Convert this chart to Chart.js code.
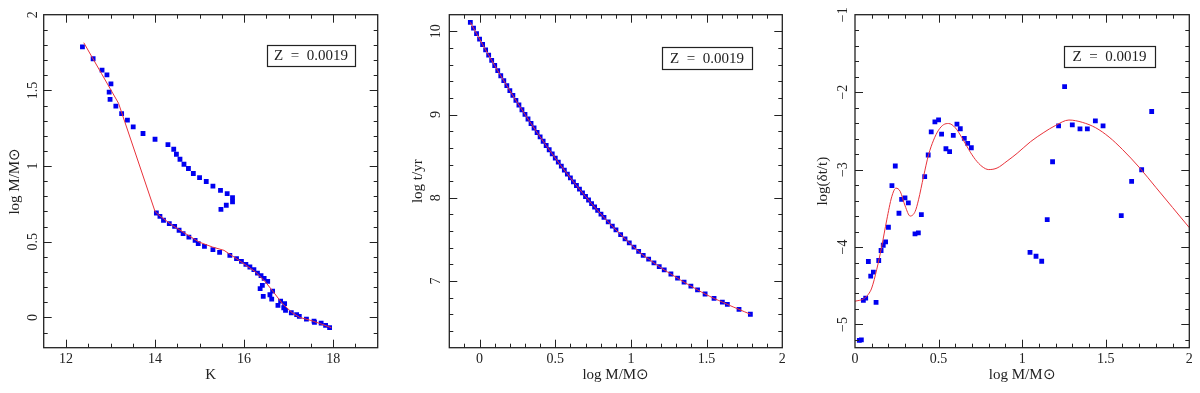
<!DOCTYPE html>
<html><head><meta charset="utf-8">
<script src="https://cdn.jsdelivr.net/npm/chart.js@4/dist/chart.umd.min.js"></script>
<style>
body{margin:0;background:#fff;width:1200px;height:393px;overflow:hidden;position:relative}
.p{position:absolute;top:0;width:400px;height:393px}
canvas{display:block}
</style>
</head><body>
<div class="p" style="left:0"><canvas id="c1" width="400" height="393"></canvas></div>
<div class="p" style="left:400px"><canvas id="c2" width="400" height="393"></canvas></div>
<div class="p" style="left:800px"><canvas id="c3" width="400" height="393"></canvas></div>
<script>
// ---------- Panel 1: log M vs K ----------
const p1K = [12.37,12.61,12.81,12.92,13.01,12.97,12.99,13.12,13.25,13.38,13.51,13.73,14.00,14.29,14.42,14.48,14.56,14.65,14.75,14.86,15.00,15.15,15.30,15.47,15.62,15.74,15.74,15.60,15.48,
  14.03,14.11,14.19,14.32,14.44,14.54,14.63,14.76,14.90,14.97,15.11,15.30,15.45,15.68,15.83,15.94,16.04,16.13,16.22,16.30,16.38,16.45,16.53,16.36,16.41,16.43,16.58,16.64,16.62,16.76,16.82,16.91,16.89,16.93,17.06,17.18,17.24,17.40,17.57,17.58,17.73,17.83,17.92];
const p1LogM = [1.788,1.709,1.634,1.603,1.543,1.488,1.440,1.396,1.347,1.303,1.259,1.215,1.177,1.142,1.111,1.078,1.045,1.012,0.984,0.951,0.924,0.898,0.867,0.840,0.818,0.792,0.763,0.741,0.714,
  0.690,0.668,0.642,0.620,0.602,0.576,0.554,0.531,0.509,0.487,0.470,0.448,0.430,0.410,0.388,0.370,0.351,0.333,0.316,0.293,0.276,0.258,0.238,0.190,0.212,0.139,0.150,0.174,0.121,0.079,0.108,0.091,0.064,0.046,0.031,0.018,0.007,-0.011,-0.024,-0.033,-0.038,-0.053,-0.068];
const p1LineK = [12.40,12.80,13.18,14.00,14.09,14.39,14.69,14.99,15.29,15.55,15.885,16.26,16.48,16.63,16.86,17.08,17.25,17.50,17.70,17.96];
const p1LineM = [1.815,1.610,1.415,0.700,0.675,0.608,0.553,0.498,0.465,0.443,0.377,0.300,0.234,0.179,0.091,0.031,0.000,-0.020,-0.040,-0.068];
const p1XTicks = [12,14,16,18];
const p1XLabels = ['12','14','16','18'];
const p1YTicks = [0,0.5,1,1.5,2];
const p1YLabels = ['0','0.5','1','1.5','2'];

// ---------- Panel 2: log t vs log M ----------
const p2LogM = [-0.061,-0.04,-0.02,0.0,0.02,0.04,0.06,0.08,0.10,0.12,0.14,0.16,0.18,0.20,0.22,0.24,0.26,0.28,0.30,0.32,0.34,0.36,0.38,0.40,0.42,0.44,0.46,0.48,0.50,0.52,0.54,0.56,0.58,0.60,0.62,0.64,0.66,0.68,0.70,0.72,0.74,0.76,0.78,
  0.802,0.822,0.850,0.877,0.901,0.932,0.961,0.989,1.020,1.051,1.081,1.117,1.152,1.187,1.220,1.264,1.308,1.351,1.396,1.440,1.490,1.549,1.604,1.637,1.714,1.789];
const p2LogT = [10.108,10.038,9.972,9.907,9.842,9.778,9.715,9.652,9.590,9.528,9.467,9.407,9.347,9.288,9.230,9.172,9.115,9.058,9.003,8.947,8.893,8.839,8.785,8.732,8.680,8.629,8.578,8.528,8.478,8.429,8.381,8.333,8.286,8.239,8.193,8.148,8.104,8.060,8.016,7.974,7.931,7.890,7.849,
  7.805,7.765,7.711,7.660,7.615,7.559,7.508,7.460,7.408,7.357,7.310,7.265,7.218,7.174,7.134,7.085,7.035,6.987,6.940,6.895,6.845,6.792,6.748,6.720,6.660,6.602];
const p2XTicks = [0,0.5,1,1.5,2];
const p2XLabels = ['0','0.5','1','1.5','2'];
const p2YTicks = [7,8,9,10];
const p2YLabels = ['7','8','9','10'];

// ---------- Panel 3: log(δt/t) vs log M ----------
const p3LogM = [0.026,0.038,0.05,0.064,0.08,0.094,0.11,0.126,0.142,0.156,0.169,0.183,0.20,0.221,0.241,0.263,0.279,0.299,0.319,0.359,0.379,0.397,0.417,0.438,0.456,0.478,0.50,0.518,0.544,0.566,0.588,0.61,0.63,0.654,0.674,0.696,
  1.047,1.083,1.117,1.15,1.182,1.218,1.254,1.30,1.346,1.39,1.438,1.484,1.593,1.655,1.715,1.775];
const p3LogDt = [-5.205,-5.20,-4.69,-4.66,-4.187,-4.376,-4.325,-4.715,-4.174,-4.045,-3.977,-3.934,-3.745,-3.208,-2.954,-3.564,-3.384,-3.366,-3.43,-3.83,-3.817,-3.581,-3.091,-2.812,-2.512,-2.383,-2.357,-2.542,-2.731,-2.769,-2.559,-2.413,-2.473,-2.598,-2.662,-2.718,
  -4.068,-4.119,-4.184,-3.647,-2.899,-2.435,-1.928,-2.422,-2.474,-2.474,-2.371,-2.435,-3.595,-3.153,-3.002,-2.25];
const p3FitM = [0,0.05,0.08,0.10,0.13,0.16,0.19,0.22,0.245,0.27,0.30,0.33,0.36,0.38,0.41,0.44,0.47,0.50,0.53,0.56,0.60,0.64,0.68,0.72,0.76,0.80,0.85,0.91,0.97,1.05,1.13,1.20,1.28,1.36,1.44,1.52,1.60,1.70,1.80,1.90,2.0];
const p3FitDt = [-4.70,-4.67,-4.61,-4.53,-4.29,-3.99,-3.65,-3.35,-3.24,-3.28,-3.47,-3.60,-3.54,-3.39,-3.09,-2.81,-2.62,-2.49,-2.42,-2.405,-2.46,-2.59,-2.74,-2.87,-2.96,-3.00,-2.98,-2.89,-2.79,-2.64,-2.52,-2.43,-2.36,-2.39,-2.46,-2.58,-2.74,-2.97,-3.23,-3.49,-3.75];
const p3XTicks = [0,0.5,1,1.5,2];
const p3XLabels = ['0','0.5','1','1.5','2'];
const p3YTicks = [-5,-4,-3,-2,-1];
const p3YLabels = ['\u22125','\u22124','\u22123','\u22122','\u22121'];

const boxText = 'Z  =  0.0019';

// ---------- helpers ----------
const FONT = 'Liberation Serif';
const INK = '#222';
const zip = (xs, ys) => xs.map((x, i) => ({x, y: ys[i]}));
const range = (a, b, s) => { const r = []; for (let v = a; v <= b + 1e-9; v += s) r.push(+v.toFixed(6)); return r; };

const frameTicks = {
  id: 'frameTicks',
  afterDraw(chart, args, o) {
    const {ctx, chartArea: a, scales} = chart;
    ctx.save();
    ctx.strokeStyle = INK;
    ctx.lineWidth = 1;
    const xs = scales.x, ys = scales.y;
    const tick = (vals, len) => {
      vals.forEach(v => {
        const px = Math.round(xs.getPixelForValue(v)) + 0.5;
        if (px < a.left + 1 || px > a.right - 1) return;
        ctx.beginPath();
        ctx.moveTo(px, a.bottom); ctx.lineTo(px, a.bottom - len);
        ctx.moveTo(px, a.top); ctx.lineTo(px, a.top + len);
        ctx.stroke();
      });
    };
    const ticky = (vals, len) => {
      vals.forEach(v => {
        const py = Math.round(ys.getPixelForValue(v)) + 0.5;
        if (py < a.top + 1 || py > a.bottom - 1) return;
        ctx.beginPath();
        ctx.moveTo(a.left, py); ctx.lineTo(a.left + len, py);
        ctx.moveTo(a.right, py); ctx.lineTo(a.right - len, py);
        ctx.stroke();
      });
    };
    tick(o.xMinor, 4); tick(o.xMajor, 8);
    ticky(o.yMinor, 4); ticky(o.yMajor, 8);
    ctx.lineWidth = 1.3;
    ctx.strokeRect(a.left, a.top, a.right - a.left, a.bottom - a.top);
    // label box
    const b = o.box;
    ctx.fillStyle = '#fff';
    ctx.fillRect(b.x, b.y, b.w, b.h);
    ctx.lineWidth = 1.2;
    ctx.strokeRect(b.x + 0.5, b.y + 0.5, b.w, b.h);
    ctx.fillStyle = INK;
    ctx.font = '15px "' + FONT + '"';
    ctx.textAlign = 'center';
    ctx.textBaseline = 'middle';
    ctx.fillText(boxText, b.x + b.w / 2, b.y + b.h / 2 + 1);
    ctx.restore();
  }
};

function makeChart(id, cfg) {
  const lab = (ticks, labels) => v => { const i = ticks.findIndex(t => Math.abs(t - v) < 1e-9); return i >= 0 ? labels[i] : ''; };
  return new Chart(document.getElementById(id), {
    data: {datasets: cfg.datasets},
    plugins: [frameTicks],
    options: {
      responsive: false, animation: false, devicePixelRatio: 1,
      layout: {padding: {left: 0, right: cfg.padRight, top: cfg.padTop, bottom: 0}},
      plugins: {legend: {display: false}, tooltip: {enabled: false},
        frameTicks: {xMajor: cfg.xTicks, xMinor: cfg.xMinor, yMajor: cfg.yTicks, yMinor: cfg.yMinor, box: cfg.box}},
      scales: {
        x: {type: 'linear', position: 'bottom', min: cfg.xMin, max: cfg.xMax,
          afterBuildTicks: s => { s.ticks = cfg.xTicks.map(v => ({value: v})); },
          afterFit: s => { s.height = cfg.xAxisH; },
          grid: {display: false, drawTicks: false}, border: {display: false},
          ticks: {autoSkip: false, maxRotation: 0, padding: 3, color: INK, font: {family: FONT, size: 14}, callback: lab(cfg.xTicks, cfg.xLabels)},
          title: {display: true, text: cfg.xTitle, color: INK, font: {family: FONT, size: 15}, padding: {top: 0, bottom: 9}}},
        y: {type: 'linear', position: 'left', min: cfg.yMin, max: cfg.yMax,
          afterBuildTicks: s => { s.ticks = cfg.yTicks.map(v => ({value: v})); },
          afterFit: s => { s.width = cfg.yAxisW; },
          grid: {display: false, drawTicks: false}, border: {display: false},
          ticks: {autoSkip: false, minRotation: 90, maxRotation: 90, crossAlign: 'center', padding: cfg.yPad, color: INK, font: {family: FONT, size: 14}, callback: lab(cfg.yTicks, cfg.yLabels)},
          title: {display: true, text: cfg.yTitle, color: INK, font: {family: FONT, size: 15}, padding: {top: cfg.yTitlePad, bottom: 0}}}
      }
    }
  });
}

const BLUE = '#0000f0';
const RED = '#e8323a';
const pts = data => ({type: 'scatter', data, pointStyle: 'rect', pointRadius: 3.4, backgroundColor: BLUE, borderWidth: 0, order: 2});
const line = (data, extra) => Object.assign({type: 'line', data, borderColor: RED, borderWidth: 1, pointRadius: 0, fill: false, order: 1}, extra);

makeChart('c1', {
  datasets: [pts(zip(p1K, p1LogM)), line(zip(p1LineK, p1LineM), {tension: 0})],
  xMin: 11.5, xMax: 19, yMin: -0.2, yMax: 2,
  xTicks: p1XTicks, xLabels: p1XLabels, yTicks: p1YTicks, yLabels: p1YLabels,
  xMinor: range(11.5, 19, 0.5), yMinor: range(-0.2, 2, 0.1),
  xTitle: 'K', yTitle: 'log M/M\u2299',
  padRight: 22.3, padTop: 14.7, xAxisH: 45.3, yAxisW: 43.7, yPad: 1.5, yTitlePad: 6,
  box: {x: 267, y: 45, w: 88, h: 21}
});
makeChart('c2', {
  datasets: [pts(zip(p2LogM, p2LogT)), line(zip(p2LogM, p2LogT), {tension: 0.3})],
  xMin: -0.2, xMax: 2, yMin: 6.2, yMax: 10.2,
  xTicks: p2XTicks, xLabels: p2XLabels, yTicks: p2YTicks, yLabels: p2YLabels,
  xMinor: range(-0.2, 2, 0.1), yMinor: range(6.2, 10.2, 0.2),
  xTitle: 'log M/M\u2299', yTitle: 'log t/yr',
  padRight: 17.7, padTop: 14.7, xAxisH: 45.3, yAxisW: 49.3, yPad: 6, yTitlePad: 9.3,
  box: {x: 262, y: 47, w: 90, h: 22}
});
makeChart('c3', {
  datasets: [pts(zip(p3LogM, p3LogDt)), line(zip(p3FitM, p3FitDt), {cubicInterpolationMode: 'monotone'})],
  xMin: 0, xMax: 2, yMin: -5.3, yMax: -1,
  xTicks: p3XTicks, xLabels: p3XLabels, yTicks: p3YTicks, yLabels: p3YLabels,
  xMinor: range(0, 2, 0.1), yMinor: range(-5.2, -1, 0.2),
  xTitle: 'log M/M\u2299', yTitle: 'log(\u03b4t/t)',
  padRight: 10.7, padTop: 14.7, xAxisH: 45.3, yAxisW: 55, yPad: 4, yTitlePad: 14.3,
  box: {x: 264, y: 46, w: 91, h: 21}
});
</script>
</body></html>
